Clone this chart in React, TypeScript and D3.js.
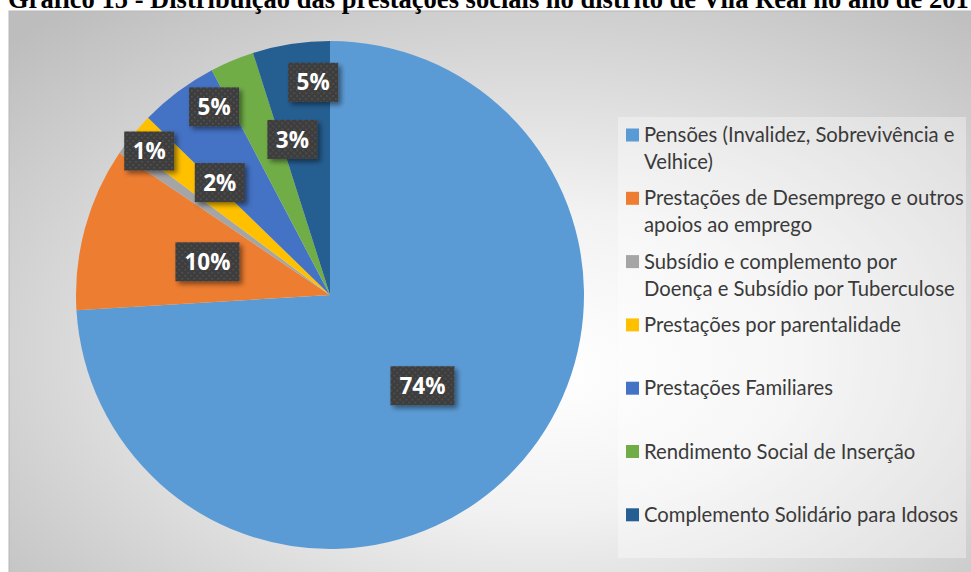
import React, { useMemo } from "react";
import * as d3 from "d3";

const title = "Gráfico 15 - Distribuição das prestações sociais no distrito de Vila Real no ano de 2017";
const categories = [
  "Pensões (Invalidez, Sobrevivência e\nVelhice)",
  "Prestações de Desemprego e outros\napoios ao emprego",
  "Subsídio e complemento por\nDoença e Subsídio por Tuberculose",
  "Prestações por parentalidade",
  "Prestações Familiares",
  "Rendimento Social de Inserção",
  "Complemento Solidário para Idosos",
];
const values = [74.0, 10.4, 0.75, 2.1, 5.0, 2.8, 4.9];
const colors = ["#5B9BD5", "#ED7D31", "#A5A5A5", "#FFC000", "#4472C4", "#70AD47", "#255E91"];

// label layout (best-fit placement): angle shift in degrees, radius fraction
const labelShift = [1.2, -0.1, 3.2, 5.1, 5.1, 9.1, 4.3];
const labelRadius = [0.51, 0.5, 0.91, 0.62, 0.87, 0.63, 0.84];

const W = 971;
const H = 572;

function measure(text: string, font: string): number {
  const c = document.createElement("canvas");
  const ctx = c.getContext("2d")!;
  ctx.font = font;
  return ctx.measureText(text).width;
}

export default function App() {
  const legendFamily = "Lato, 'Open Sans', sans-serif";
  const labelFamily = "'Open Sans', Lato, sans-serif";
  const titleFamily = "'Liberation Serif', 'Times New Roman', serif";

  const legendSize = useMemo(() => {
    const w = measure("Prestações de Desemprego e outros", `100px ${legendFamily}`);
    return (320 / w) * 100;
  }, []);
  const labelSize = useMemo(() => {
    const w = measure("10%", `bold 100px ${labelFamily}`);
    return (46 / w) * 100;
  }, []);
  const titleSize = useMemo(() => {
    const w = measure("Gráfico 15 - Distribuição das prestações sociais no distrito de Vila Real no ano de 201", `bold 100px ${titleFamily}`);
    return (962 / w) * 100;
  }, []);

  const cx = 330;
  const cy = 295;
  const R = 254;

  const total = d3.sum(values);
  const pie = d3
    .pie<number>()
    .sort(null)
    .value((d) => d);
  const arcs = pie(values);
  const arcGen = d3.arc<d3.PieArcDatum<number>>().innerRadius(0).outerRadius(R);

  const legendX = 626;
  const legendTop = 135;
  const legendStep = 63.3;
  const lineH = 27;

  return (
    <svg
      width={W}
      height={H}
      style={{ position: "absolute", left: 0, top: 0, display: "block" }}
      xmlns="http://www.w3.org/2000/svg"
    >
      <defs>
        <radialGradient id="bg" cx="0.52" cy="0.55" r="0.72" fx="0.55" fy="0.6">
          <stop offset="0" stopColor="#ffffff" />
          <stop offset="0.35" stopColor="#f2f2f2" />
          <stop offset="1" stopColor="#bdbdbd" />
        </radialGradient>
        <pattern id="dots" width="6" height="6" patternUnits="userSpaceOnUse">
          <rect width="6" height="6" fill="#3d3d3d" />
          <rect x="1" y="1" width="1.6" height="1.6" fill="#555555" />
          <rect x="4" y="4" width="1.6" height="1.6" fill="#555555" />
        </pattern>
        <filter id="shadow" x="-30%" y="-30%" width="160%" height="160%">
          <feDropShadow dx="3" dy="3" stdDeviation="2.5" floodColor="#000" floodOpacity="0.45" />
        </filter>
      </defs>
      <rect x={0} y={0} width={W} height={H} fill="#ffffff" />
      <rect x={9} y={11} width={990} height={600} fill="url(#bg)" stroke="#b8b8b8" strokeWidth={1} />
      <text
        x={8}
        y={8}
        fontFamily={titleFamily}
        fontWeight="bold"
        fontSize={titleSize}
        fill="#000"
      >
        {title}
      </text>

      <g transform={`translate(${cx},${cy})`}>
        {arcs.map((a, i) => (
          <path key={i} d={arcGen(a) || ""} fill={colors[i]} />
        ))}
        {arcs.map((a, i) => {
          const mid = (a.startAngle + a.endAngle) / 2 + (labelShift[i] * Math.PI) / 180;
          const r = labelRadius[i] * R;
          const x = Math.sin(mid) * r;
          const y = -Math.cos(mid) * r;
          const txt = `${Math.round((values[i] / total) * 100)}%`;
          const bw = txt.length >= 3 ? 64 : 50;
          const bh = 39;
          return (
            <g key={"l" + i} transform={`translate(${x},${y})`}>
              <rect x={-bw / 2} y={-bh / 2} width={bw} height={bh} fill="url(#dots)" filter="url(#shadow)" />
              <text
                x={0}
                y={0}
                dy="0.36em"
                textAnchor="middle"
                fontFamily={labelFamily}
                fontWeight="bold"
                fontSize={labelSize}
                fill="#ffffff"
              >
                {txt}
              </text>
            </g>
          );
        })}
      </g>

      <rect x={618} y={117} width={348} height={441} fill="#ffffff" fillOpacity={0.35} />
      {categories.map((c, i) => {
        const lines = c.split("\n");
        const y0 = legendTop + i * legendStep;
        return (
          <g key={"lg" + i}>
            <rect x={legendX} y={y0 - 6.5} width={13} height={13} fill={colors[i]} />
            <text fontFamily={legendFamily} fontSize={legendSize} fill="#3a3a3a">
              {lines.map((ln, j) => (
                <tspan key={j} x={644} y={y0 + j * lineH} dy="0.35em">
                  {ln}
                </tspan>
              ))}
            </text>
          </g>
        );
      })}
    </svg>
  );
}
